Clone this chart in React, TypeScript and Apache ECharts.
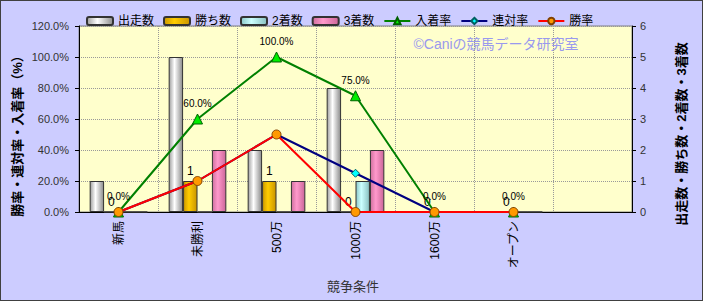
import React, { useEffect, useRef } from "react";
import * as echarts from "echarts";

const categories = ["新馬", "未勝利", "500万", "1000万", "1600万", "オープン", ""];
const runs = [1, 5, 2, 4, 0, 0, null];
const wins = [0, 1, 1, 0, 0, 0, null];
const seconds = [0, 0, 0, 1, 0, 0, null];
const thirds = [0, 2, 1, 2, 0, 0, null];
const placeRate = [0, 60, 100, 75, 0, 0, null];
const quinellaRate = [0, 20, 50, 25, 0, 0, null];
const winRate = [0, 20, 50, 0, 0, 0, null];
const leftTicks = { min: 0, max: 120, interval: 20 };
const rightTicks = { min: 0, max: 6, interval: 1 };

const FONT = "'Liberation Sans', 'Noto Sans CJK JP', sans-serif";

function grad(edge: string, mid: string, edge2: string) {
  return new echarts.graphic.LinearGradient(0, 0, 1, 0, [
    { offset: 0, color: edge },
    { offset: 0.4, color: mid },
    { offset: 1, color: edge2 },
  ]);
}

export default function App() {
  const ref = useRef<HTMLDivElement>(null);
  useEffect(() => {
    if (!ref.current) return;
    const chart = echarts.init(ref.current, undefined, { renderer: "svg" });
    const barBase = {
      type: "bar",
      yAxisIndex: 1,
      barGap: "0%",
      barCategoryGap: "27%",
    };
    chart.setOption({
      animation: false,
      backgroundColor: "#ccccff",
      textStyle: { fontFamily: FONT },
      legend: {
        left: 80,
        top: 9,
        itemWidth: 26,
        itemHeight: 8,
        itemGap: 9,
        textStyle: { fontSize: 12, color: "#000", fontFamily: FONT },
        data: ["出走数", "勝ち数", "2着数", "3着数", "入着率", "連対率", "勝率"],
      },
      grid: {
        left: 78,
        right: 70,
        top: 25,
        bottom: 88,
        show: true,
        backgroundColor: "#ffffcc",
        borderColor: "#808080",
        borderWidth: 1,
      },
      graphic: [
        {
          type: "text",
          x: 495,
          y: 43,
          style: {
            text: "©Caniの競馬データ研究室",
            fill: "#9999ee",
            fontSize: 14,
            fontFamily: FONT,
            textAlign: "center",
            textVerticalAlign: "middle",
          },
        },
        {
          type: "text",
          x: 16,
          y: 132,
          rotation: Math.PI / 2,
          style: {
            text: "勝率・連対率・入着率（%）",
            fill: "#000",
            fontSize: 13,
            fontWeight: "bold",
            fontFamily: FONT,
            textAlign: "center",
            textVerticalAlign: "middle",
          },
        },
        {
          type: "text",
          x: 680,
          y: 133,
          rotation: Math.PI / 2,
          style: {
            text: "出走数・勝ち数・2着数・3着数",
            fill: "#000",
            fontSize: 13,
            fontWeight: "bold",
            fontFamily: FONT,
            textAlign: "center",
            textVerticalAlign: "middle",
          },
        },
        {
          type: "text",
          x: 352,
          y: 285,
          style: {
            text: "競争条件",
            fill: "#333",
            fontSize: 13,
            fontFamily: FONT,
            textAlign: "center",
            textVerticalAlign: "middle",
          },
        },
      ],
      xAxis: {
        type: "category",
        data: categories,
        boundaryGap: true,
        axisLine: { lineStyle: { color: "#000" } },
        axisTick: { show: false },
        axisLabel: {
          rotate: 90,
          color: "#000",
          fontSize: 12,
          margin: 9,
          interval: 0,
          fontFamily: FONT,
        },
        splitLine: {
          show: true,
          lineStyle: { color: "#999", type: "dotted" },
        },
      },
      yAxis: [
        {
          type: "value",
          min: leftTicks.min,
          max: leftTicks.max,
          interval: leftTicks.interval,
          axisLine: { show: true, lineStyle: { color: "#000" } },
          axisTick: { show: true, length: 4, lineStyle: { color: "#000" } },
          axisLabel: {
            color: "#333",
            fontSize: 11,
            margin: 10,
            fontFamily: FONT,
            formatter: (v: number) => v.toFixed(1) + "%",
          },
          splitLine: { show: true, lineStyle: { color: "#999", type: "dotted" } },
        },
        {
          type: "value",
          min: rightTicks.min,
          max: rightTicks.max,
          interval: rightTicks.interval,
          axisLine: { show: true, lineStyle: { color: "#000" } },
          axisTick: { show: true, length: 4, lineStyle: { color: "#000" } },
          axisLabel: { color: "#333", fontSize: 11, margin: 8, fontFamily: FONT },
          splitLine: { show: false },
        },
      ],
      series: [
        {
          ...barBase,
          name: "出走数",
          data: runs,
          itemStyle: { color: grad("#a0a0a0", "#ffffff", "#8c8c8c"), borderColor: "#333", borderWidth: 1 },
        },
        {
          ...barBase,
          name: "勝ち数",
          data: wins,
          itemStyle: { color: grad("#cc9900", "#ffcc00", "#c89400"), borderColor: "#333", borderWidth: 1 },
          label: {
            show: true,
            position: "top",
            distance: 4,
            color: "#000",
            fontSize: 12,
            fontFamily: FONT,
          },
        },
        {
          ...barBase,
          name: "2着数",
          data: seconds,
          itemStyle: { color: grad("#8cc8c8", "#ccffff", "#88c0c0"), borderColor: "#333", borderWidth: 1 },
        },
        {
          ...barBase,
          name: "3着数",
          data: thirds,
          itemStyle: { color: grad("#d0709f", "#ff99cc", "#cc6699"), borderColor: "#333", borderWidth: 1 },
        },
        {
          type: "line",
          name: "入着率",
          yAxisIndex: 0,
          data: placeRate,
          symbol: "triangle",
          symbolSize: 10,
          lineStyle: { color: "#008000", width: 2 },
          itemStyle: { color: "#00ee00", borderColor: "#006000", borderWidth: 1 },
          label: {
            show: true,
            position: "top",
            distance: 5,
            color: "#000",
            fontSize: 10,
            fontFamily: FONT,
            formatter: (p: any) => Number(p.value).toFixed(1) + "%",
          },
        },
        {
          type: "line",
          name: "連対率",
          yAxisIndex: 0,
          data: quinellaRate,
          symbol: "diamond",
          symbolSize: 8,
          lineStyle: { color: "#000080", width: 2 },
          itemStyle: { color: "#00ffff", borderColor: "#006060", borderWidth: 1 },
        },
        {
          type: "line",
          name: "勝率",
          yAxisIndex: 0,
          data: winRate,
          symbol: "circle",
          symbolSize: 9,
          lineStyle: { color: "#ff0000", width: 2 },
          itemStyle: { color: "#ff9900", borderColor: "#804000", borderWidth: 1 },
        },
      ],
    });
    return () => chart.dispose();
  }, []);
  return (
    <div
      ref={ref}
      style={{
        position: "fixed",
        left: 0,
        top: 0,
        width: 703,
        height: 301,
        boxSizing: "border-box",
        border: "1px solid #404040",
      }}
    />
  );
}
